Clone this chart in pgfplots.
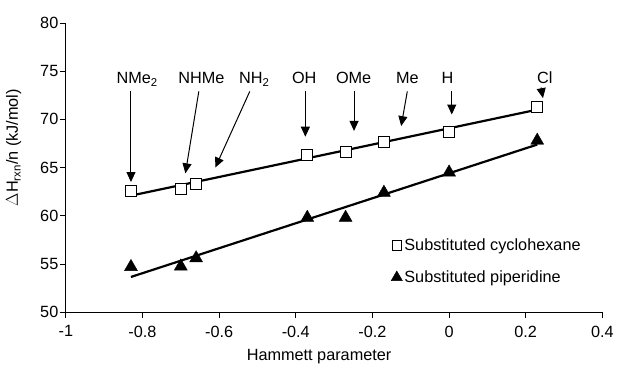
\documentclass[border=0pt]{standalone}
\usepackage{fontspec}
\setmainfont{Liberation Sans}
\usepackage{pgfplots}
\usepackage{pgfplotstable}
\pgfplotsset{compat=1.18}
\usetikzlibrary{arrows.meta}

\pgfplotstableread{
x      cyc   pip
-0.83  62.6  54.7
-0.70  62.75 54.75
-0.66  63.3  55.6
-0.37  66.3  59.8
-0.27  66.6  59.8
-0.17  67.7  62.4
0.00   68.7  64.5
0.23   71.3  67.8
}\datatable

\begin{document}
\begin{tikzpicture}[font=\fontsize{16.3}{19}\selectfont]
\begin{axis}[
  name=ax,
  scale only axis,
  width=538pt, height=290pt,
  xmin=-1, xmax=0.4, ymin=50, ymax=80,
  enlargelimits=false,
  clip=false,
  axis lines=left,
  axis line style={-, line width=1pt, black},
  xtick={-1,-0.8,-0.6,-0.4,-0.2,0,0.2,0.4},
  xticklabels={-1,-0.8,-0.6,-0.4,-0.2,0,0.2,0.4},
  ytick={50,55,60,65,70,75,80},
  yticklabels={50,55,60,65,70,75,80},
  tick align=outside,
  major tick length=6pt,
  tick style={black, line width=0.8pt},
  ticklabel style={font=\fontsize{16.3}{19}\selectfont},
  xticklabel style={yshift=-4pt},
  yticklabel style={xshift=2pt},
  xlabel={Hammett parameter},
  ylabel={$\Delta$H\textsubscript{rxn}/n (kJ/mol)},
  xlabel style={at={(axis description cs:0.472,-0.155)}, anchor=center},
  ylabel style={at={(axis description cs:-0.097,0.569)}, anchor=center, rotate=0},
  legend style={draw=none, fill=none, at={(axis description cs:0.606,0.262)}, anchor=north west,
    font=\fontsize{16.3}{19}\selectfont, row sep=15pt, inner sep=0pt},
  legend cell align=left,
  legend image code/.code={\draw[#1] plot coordinates {(4pt,0pt)};},
]
\addplot[black, line width=2.2pt, forget plot] table[x=x, y={create col/linear regression={y=cyc}}] {\datatable};
\addplot[black, line width=2.2pt, forget plot] table[x=x, y={create col/linear regression={y=pip}}] {\datatable};
\addplot[only marks, mark=square*, mark size=5.5pt, mark options={fill=white, draw=black, line width=1pt},
  legend image post style={mark size=4.8pt}] table[x=x, y=cyc] {\datatable};
\addlegendentry{Substituted cyclohexane}
\addplot[only marks, mark=triangle*, mark size=7.5pt, mark options={fill=black, draw=black},
  legend image post style={mark size=6.5pt}] table[x=x, y=pip] {\datatable};
\addlegendentry{Substituted piperidine}

% annotation labels
\node[anchor=base] at (axis cs:-0.814,73.7) {NMe\textsubscript{2}};
\node[anchor=base] at (axis cs:-0.646,73.7) {NHMe};
\node[anchor=base] at (axis cs:-0.508,73.7) {NH\textsubscript{2}};
\node[anchor=base] at (axis cs:-0.378,73.7) {OH};
\node[anchor=base] at (axis cs:-0.249,73.7) {OMe};
\node[anchor=base] at (axis cs:-0.109,73.7) {Me};
\node[anchor=base] at (axis cs:-0.004,73.7) {H};
\node[anchor=base] at (axis cs:0.25,73.7) {Cl};
% annotation arrows
\tikzset{annarrow/.style={line width=1pt, black, -{Triangle[width=9pt,length=10pt]}}}
\draw[annarrow] (axis cs:-0.83,72.9) -- (axis cs:-0.83,63.5);
\draw[annarrow] (axis cs:-0.653,72.9) -- (axis cs:-0.688,64.4);
\draw[annarrow] (axis cs:-0.52,72.9) -- (axis cs:-0.61,65.0);
\draw[annarrow] (axis cs:-0.375,72.9) -- (axis cs:-0.375,68.2);
\draw[annarrow] (axis cs:-0.248,72.9) -- (axis cs:-0.248,68.8);
\draw[annarrow] (axis cs:-0.109,72.9) -- (axis cs:-0.125,69.3);
\draw[annarrow] (axis cs:0.007,72.9) -- (axis cs:0.007,70.5);
\draw[annarrow] (axis cs:0.24,73.3) -- (axis cs:0.245,72.2);
\end{axis}
\path (ax.south west) ++(-66pt,-54pt) rectangle ++(617pt,367pt);
\end{tikzpicture}
\end{document}
